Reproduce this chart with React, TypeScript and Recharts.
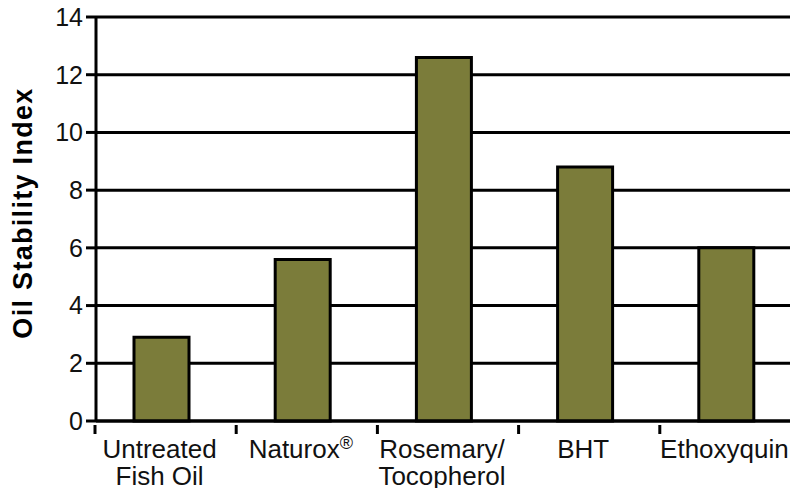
import { BarChart, Bar, XAxis, YAxis, CartesianGrid, Label } from 'recharts'

const categories = ['Untreated\nFish Oil', 'Naturox®', 'Rosemary/\nTocopherol', 'BHT', 'Ethoxyquin']
const stabilityIndex = [2.9, 5.6, 12.6, 8.8, 6.0]
const yTicks = [0, 2, 4, 6, 8, 10, 12, 14]

const data = categories.map((name, i) => ({ name, value: stabilityIndex[i] }))

const FONT = '"Liberation Sans", Arial, sans-serif'
const PAD_LEFT = -5

// category label plus a tick mark on the left boundary of each band
const CategoryTick = (props: any) => {
  const { x, y, payload, width } = props
  const band = (width - PAD_LEFT) / categories.length
  const lines = String(payload.value).split('\n')
  let main = lines[0]
  const sup = main.endsWith('®')
  if (sup) main = main.slice(0, -1)
  const tx = x - band / 2 + 4
  return (
    <g>
      <line x1={tx} x2={tx} y1={y - 4} y2={y + 5} stroke="#000" strokeWidth={3} />
      <text x={x - 2} y={y + 29} textAnchor="middle" fontSize={26} fill="#111" fontFamily={FONT}>
        {main}
        {sup && <tspan fontSize={18} dy={-9}>®</tspan>}
        {lines[1] && <tspan x={x - 2} dy={sup ? 36 : 27}>{lines[1]}</tspan>}
      </text>
    </g>
  )
}

export default function App() {
  return (
    <div style={{ position: 'fixed', left: 0, top: 0, background: '#fff' }}>
      <BarChart
        width={790}
        height={488}
        data={data}
        margin={{ top: 17, right: -7, left: 0, bottom: 0 }}
        barSize={55}
      >
        <CartesianGrid horizontal vertical={false} stroke="#000" strokeWidth={3} />
        <XAxis
          dataKey="name"
          height={67}
          interval={0}
          padding={{ left: PAD_LEFT, right: 0 }}
          axisLine={{ stroke: '#000', strokeWidth: 3 }}
          tickLine={false}
          tick={<CategoryTick />}
        />
        <YAxis
          width={96}
          domain={[0, 14]}
          ticks={yTicks}
          interval={0}
          axisLine={{ stroke: '#000', strokeWidth: 3 }}
          tickLine={{ stroke: '#000', strokeWidth: 3 }}
          tickSize={10}
          tick={{ fill: '#111', fontSize: 25, fontFamily: FONT }}
          tickMargin={3}
        >
          <Label
            content={() => (
              <text
                transform="translate(32,213) rotate(-90)"
                textAnchor="middle"
                fontSize={27}
                letterSpacing={1.3}
                fontWeight="bold"
                fill="#000"
                fontFamily={FONT}
              >
                Oil Stability Index
              </text>
            )}
          />
        </YAxis>
        <Bar dataKey="value" fill="#7b7c3a" stroke="#000" strokeWidth={3} isAnimationActive={false} />
      </BarChart>
    </div>
  )
}
